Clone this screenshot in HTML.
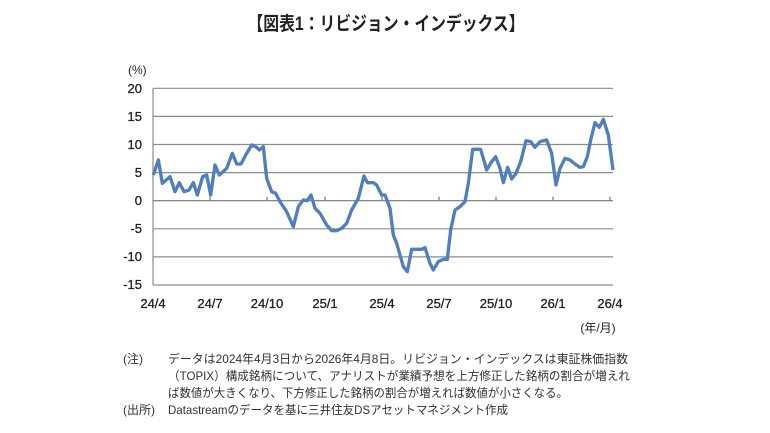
<!DOCTYPE html>
<html><head><meta charset="utf-8"><style>
html,body{margin:0;padding:0;background:#fff;}
svg{display:block;font-family:"Liberation Sans","Noto Sans CJK JP",sans-serif;}
</style></head><body>
<svg width="770" height="433" viewBox="0 0 770 433" xmlns="http://www.w3.org/2000/svg">
<text x="386" y="30" font-size="19" font-weight="bold" text-anchor="middle" fill="#222" textLength="277" lengthAdjust="spacingAndGlyphs">【図表1：リビジョン・インデックス】</text>
<g stroke="#8c8c8c" stroke-width="1.2">
<line x1="153" y1="88.3" x2="613" y2="88.3"/>
<line x1="153" y1="116.4" x2="613" y2="116.4"/>
<line x1="153" y1="144.5" x2="613" y2="144.5"/>
<line x1="153" y1="172.6" x2="613" y2="172.6"/>
<line x1="153" y1="228.8" x2="613" y2="228.8"/>
<line x1="153" y1="256.9" x2="613" y2="256.9"/>
<line x1="153" y1="285" x2="613" y2="285"/>
<line x1="153" y1="88.3" x2="153" y2="285"/>
</g>
<g stroke="#777" stroke-width="1.2">
<line x1="153" y1="200.7" x2="613" y2="200.7"/>
<line x1="210" y1="200.7" x2="210" y2="196.7"/>
<line x1="267" y1="200.7" x2="267" y2="196.7"/>
<line x1="325" y1="200.7" x2="325" y2="196.7"/>
<line x1="382" y1="200.7" x2="382" y2="196.7"/>
<line x1="439" y1="200.7" x2="439" y2="196.7"/>
<line x1="496" y1="200.7" x2="496" y2="196.7"/>
<line x1="553" y1="200.7" x2="553" y2="196.7"/>
<line x1="610" y1="200.7" x2="610" y2="196.7"/>
</g>
<g font-size="13" fill="#222" text-anchor="end" stroke="#222" stroke-width="0.3">
<text x="142" y="93">20</text><text x="142" y="121">15</text><text x="142" y="149">10</text>
<text x="142" y="177">5</text><text x="142" y="205">0</text><text x="142" y="233">-5</text>
<text x="142" y="261">-10</text><text x="142" y="289">-15</text>
</g>
<text x="128" y="74" font-size="12" fill="#222">(%)</text>
<g font-size="13" fill="#222" text-anchor="middle" stroke="#222" stroke-width="0.3">
<text x="153" y="308">24/4</text><text x="210" y="308">24/7</text><text x="267" y="308">24/10</text>
<text x="325" y="308">25/1</text><text x="382" y="308">25/4</text><text x="439" y="308">25/7</text>
<text x="496" y="308">25/10</text><text x="553" y="308">26/1</text><text x="610" y="308">26/4</text>
</g>
<text x="598" y="332" font-size="12" fill="#222" text-anchor="middle">(年/月)</text>
<g transform="translate(110,60) scale(0.33333)">
<polyline fill="none" stroke="#4f7fbf" stroke-width="10" stroke-linejoin="round" points="130,345 145,300 157,370 180,350 195,395 208,368 222,395 237,390 250,368 262,405 278,350 290,345 302,405 315,315 328,345 350,325 367,280 380,312 393,312 410,280 425,255 440,262 448,270 460,260 470,355 485,395 497,400 510,425 530,455 550,500 565,440 580,420 592,422 603,405 615,445 630,460 650,495 665,512 680,512 695,505 710,490 725,450 745,415 762,348 772,368 790,368 800,375 815,405 825,405 840,445 850,525 860,550 870,585 880,620 892,635 905,568 935,568 945,563 960,610 970,630 985,605 1000,598 1012,598 1022,510 1035,450 1050,440 1065,425 1075,370 1088,268 1112,268 1130,330 1145,305 1157,290 1170,325 1180,368 1193,322 1205,357 1218,340 1232,305 1248,242 1262,245 1275,262 1290,245 1310,240 1325,280 1338,375 1350,325 1365,295 1380,300 1395,312 1410,322 1420,320 1432,290 1442,240 1455,188 1468,202 1480,178 1495,225 1509,330"/>
</g>
<g font-size="12" fill="#333">
<text x="123" y="363">(注)</text>
<text x="168" y="363" textLength="460" lengthAdjust="spacingAndGlyphs">データは2024年4月3日から2026年4月8日。リビジョン・インデックスは東証株価指数</text>
<text x="168" y="380" textLength="462" lengthAdjust="spacingAndGlyphs">（TOPIX）構成銘柄について、アナリストが業績予想を上方修正した銘柄の割合が増えれ</text>
<text x="168" y="397" textLength="400" lengthAdjust="spacingAndGlyphs">ば数値が大きくなり、下方修正した銘柄の割合が増えれば数値が小さくなる。</text>
<text x="123" y="414">(出所)</text>
<text x="168" y="414" textLength="340" lengthAdjust="spacingAndGlyphs">Datastreamのデータを基に三井住友DSアセットマネジメント作成</text>
</g>
</svg>
</body></html>
